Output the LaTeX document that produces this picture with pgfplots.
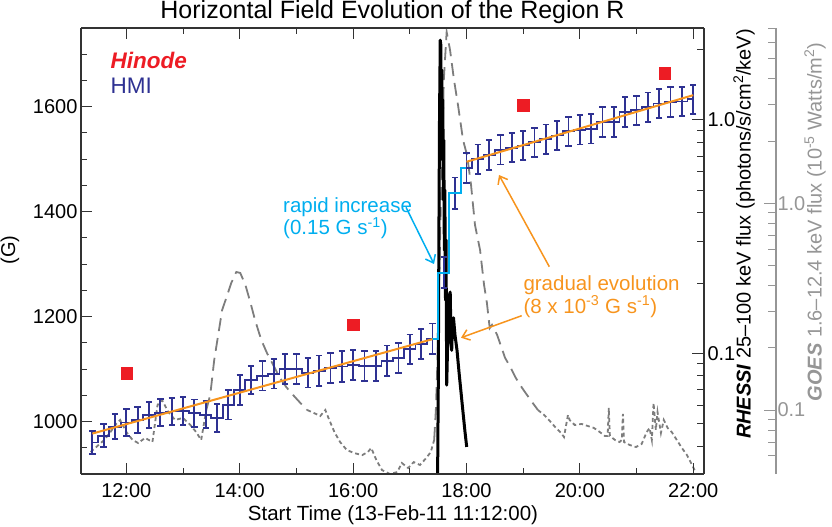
\documentclass[border=0pt]{standalone}
\usepackage{pgfplots}
\pgfplotsset{compat=1.18}
\usepackage{pgfplotstable}
\usepackage{fontspec}
\setmainfont{Liberation Sans}
\usetikzlibrary{arrows.meta}

\definecolor{hminavy}{RGB}{46,49,146}
\definecolor{hinred}{RGB}{237,28,36}
\definecolor{fitorange}{RGB}{247,148,29}
\definecolor{rapidcyan}{RGB}{0,174,239}
\definecolor{goesgray}{RGB}{125,125,125}
\definecolor{goestext}{RGB}{150,150,150}

\pgfplotstableread{
t g e
11.4 960 22
11.6 973 22
11.8 990 24
12.0 998 26
12.2 1003 25
12.4 1012 25
12.6 1017 26
12.8 1019 26
13.0 1020 26
13.2 1016 26
13.4 1013 26
13.6 1007 27
13.8 1032 28
14.0 1060 28
14.2 1079 27
14.4 1087 28
14.6 1091 28
14.8 1100 29
15.0 1100 29
15.2 1093 28
15.4 1097 29
15.6 1102 29
15.8 1105 29
16.0 1108 29
16.2 1106 29
16.4 1106 29
16.6 1116 29
16.8 1121 29
17.0 1138 28
17.2 1148 29
17.4 1158 29
17.6 1284 30
17.8 1435 30
18.0 1483 29
18.2 1500 28
18.4 1508 28
18.6 1518 28
18.8 1522 28
19.0 1526 28
19.2 1532 28
19.4 1538 28
19.6 1545 28
19.8 1553 28
20.0 1556 28
20.2 1558 28
20.4 1571 28
20.6 1571 28
20.8 1590 28
21.0 1593 28
21.2 1599 28
21.4 1606 28
21.6 1609 28
21.8 1610 28
22.0 1614 28
}\hmidata

\pgfplotstableread{
t v
11.37 0.0626
11.49 0.0670
11.61 0.0716
11.72 0.0783
11.82 0.0856
11.89 0.0895
12.00 0.0783
12.11 0.0716
12.21 0.0692
12.33 0.0733
12.46 0.0700
12.55 0.1057
12.63 0.1117
12.74 0.0978
12.86 0.0895
13.00 0.0915
13.13 0.0846
13.23 0.0783
13.32 0.0716
13.41 0.1000
13.48 0.1183
13.55 0.1746
13.62 0.2307
13.69 0.3048
13.78 0.3598
13.85 0.4113
13.94 0.4654
14.01 0.4600
14.10 0.4030
14.19 0.3297
14.27 0.2725
14.38 0.2183
14.48 0.1888
14.59 0.1652
14.71 0.1429
14.82 0.1292
14.94 0.1183
15.07 0.1081
15.19 0.1000
15.31 0.0967
15.42 0.0935
15.51 0.1000
15.58 0.0895
15.67 0.0783
15.77 0.0700
15.89 0.0640
16.02 0.0619
16.16 0.0605
16.26 0.0626
16.32 0.0655
16.41 0.0573
16.51 0.0512
16.65 0.0490
16.78 0.0501
16.86 0.0554
16.97 0.0524
17.07 0.0560
17.18 0.0542
17.29 0.0586
17.37 0.0626
17.43 0.0716
17.46 0.1000
17.50 0.2183
17.53 0.594
17.57 1.81
17.60 3.95
17.65 6.75
17.71 5.52
17.78 3.95
17.85 2.99
17.94 2.02
18.01 1.71
18.08 1.23
18.15 0.785
18.24 0.594
18.31 0.403
18.36 0.330
18.41 0.249
18.45 0.258
18.54 0.231
18.59 0.211
18.68 0.179
18.78 0.160
18.87 0.143
18.98 0.128
19.07 0.118
19.17 0.108
19.26 0.100
19.37 0.0946
19.47 0.0885
19.58 0.0818
19.67 0.0774
19.72 0.0740
19.79 0.0946
19.82 0.0895
19.91 0.0846
20.03 0.0856
20.14 0.0837
20.25 0.0818
20.35 0.0783
20.44 0.0749
20.49 0.0749
20.51 0.1023
20.53 0.0749
20.62 0.0716
20.70 0.0700
20.74 0.0716
20.76 0.0957
20.78 0.0700
20.88 0.0677
20.99 0.0662
21.09 0.0685
21.18 0.0783
21.23 0.0818
21.27 0.0716
21.30 0.1081
21.34 0.0800
21.37 0.0978
21.43 0.0774
21.48 0.0895
21.55 0.0818
21.62 0.0783
21.71 0.0716
21.80 0.0655
21.89 0.0605
21.98 0.0542
22.04 0.0501
}\goesdata

\pgfplotstableread{
t v
17.490 0.0286
17.503 0.0768
17.512 0.277
17.524 1.00
17.537 2.20
17.547 2.10
17.556 1.10
17.565 1.64
17.574 0.674
17.583 1.22
17.592 0.454
17.600 0.820
17.609 0.277
17.618 0.501
17.630 0.169
17.639 0.306
17.651 0.0731
17.665 0.1033
17.683 0.125
17.700 0.178
17.713 0.183
17.727 0.114
17.739 0.103
17.753 0.132
17.771 0.142
17.797 0.120
17.833 0.103
17.868 0.0832
17.903 0.0683
17.938 0.0561
17.974 0.0460
18.004 0.0397
}\rhessidata

\begin{document}
\begin{tikzpicture}[font=\fontsize{20}{23}\selectfont]
\useasboundingbox (0,0) rectangle (832pt,527pt);

% GOES data (log axis, hidden)
\begin{axis}[
  at={(81pt,53pt)}, anchor=south west,
  scale only axis, width=623pt, height=446pt,
  xmin=11.2, xmax=22.19, ymode=log, ymin=0.04902, ymax=7.049,
  hide axis,
  goesline/.style={goesgray, line width=1.8pt},
]
\addplot[goesline, dash pattern=on 4pt off 3pt, restrict x to domain=11.3:13.41] table[x=t,y=v] {\goesdata};
\addplot[goesline, dash pattern=on 13pt off 7pt, restrict x to domain=13.41:15.2] table[x=t,y=v] {\goesdata};
\addplot[goesline, dash pattern=on 4pt off 3pt, restrict x to domain=15.19:17.44] table[x=t,y=v] {\goesdata};
\addplot[goesline, dash pattern=on 13pt off 7pt, restrict x to domain=17.43:19.27] table[x=t,y=v] {\goesdata};
\addplot[goesline, dash pattern=on 4pt off 3pt, restrict x to domain=19.26:22.1] table[x=t,y=v] {\goesdata};
\end{axis}

% RHESSI data and right axis
\begin{axis}[
  at={(81pt,53pt)}, anchor=south west,
  scale only axis, width=623pt, height=446pt,
  xmin=11.2, xmax=22.19, ymode=log, ymin=0.03039, ymax=2.479,
  axis x line=none, axis y line*=right,
  ytick={0.1,1}, yticklabels={0.1,1.0},
  minor ytick={0.04,0.05,0.06,0.07,0.08,0.09,0.2,0.3,0.4,0.5,0.6,0.7,0.8,0.9,2},
  ytick align=inside,
  major tick length=12pt, minor tick length=7pt,
  every tick/.style={black!80, line width=1pt},
  axis line style={black!80, line width=1.2pt},
  yticklabel style={font=\fontsize{20}{23}\selectfont},
]
\addplot[black, line width=3pt, line join=round] table[x=t,y=v] {\rhessidata};
\end{axis}

% Main HMI axis
\begin{axis}[
  at={(81pt,53pt)}, anchor=south west,
  scale only axis, width=623pt, height=446pt,
  xmin=11.2, xmax=22.19, ymin=900, ymax=1750,
  axis y line*=left,
  xtick={12,14,16,18,20,22},
  xticklabels={12:00,14:00,16:00,18:00,20:00,22:00},
  minor xtick={13,15,17,19,21},
  ytick={1000,1200,1400,1600},
  yticklabels={1000,1200,1400,1600},
  minor ytick={950,1050,1100,1150,1250,1300,1350,1450,1500,1550,1650,1700},
  xtick align=inside, ytick align=inside,
  major tick length=11pt, minor tick length=6pt,
  every tick/.style={black!80, line width=1pt},
  axis line style={black!80, line width=1.2pt},
  xticklabel style={yshift=-6pt, font=\fontsize{20}{23}\selectfont},
  yticklabel style={font=\fontsize{20}{23}\selectfont},
  clip=false,
]
\addplot[hminavy, line width=1.8pt, const plot mark mid,
  error bars/.cd, y dir=both, y explicit,
  error bar style={hminavy, line width=1.8pt},
  error mark options={rotate=90, hminavy, line width=1.8pt, mark size=3.2pt}]
  table[x=t, y=g, y error=e] {\hmidata};
\addplot[rapidcyan, line width=2pt, const plot mark mid] coordinates {
  (17.4,1158) (17.6,1284) (17.8,1435) (18.0,1483)};
\addplot[fitorange, line width=2pt] coordinates {(11.4,977) (17.4,1157)};
\addplot[fitorange, line width=2pt] coordinates {(18.0,1495) (22.0,1622)};
\addplot[only marks, mark=square*, mark size=5.6pt, hinred, mark options={draw=hinred, fill=hinred}] coordinates {
  (12.0,1092) (16.0,1184) (19.0,1603) (21.5,1664)};
\end{axis}

% GOES scale axis
\begin{axis}[
  at={(775pt,53pt)}, anchor=south west,
  scale only axis, width=1pt, height=446pt,
  xmin=0, xmax=1, ymode=log, ymin=0.04902, ymax=7.049,
  axis x line=none, axis y line*=right,
  ytick={0.1,1}, yticklabels={0.1,1.0},
  minor ytick={0.06,0.07,0.08,0.09,0.2,0.3,0.4,0.5,0.6,0.7,0.8,0.9,2,3,4,5,6,7},
  ytick align=inside,
  major tick length=12pt, minor tick length=8pt,
  every tick/.style={goestext, line width=1pt},
  axis line style={goestext, line width=1.2pt},
  yticklabel style={goestext, xshift=-2pt, font=\fontsize{20}{23}\selectfont},
]
\addplot[draw=none] coordinates {(0.5,0.5)};
\end{axis}

% Title and labels
\node[anchor=base, font=\fontsize{25}{29}\selectfont] at (392.5pt,508.7pt) {Horizontal Field Evolution of the Region R};
\node[anchor=base, font=\fontsize{20.5}{24}\selectfont] at (393pt,6.3pt) {Start Time (13-Feb-11 11:12:00)};
\node[rotate=90] at (10pt,277pt) {(G)};
\node[rotate=90] at (744pt,293pt) {\textbf{\textit{RHESSI}} 25--100 keV flux (photons/s/cm\textsuperscript{2}/keV)};
\node[rotate=90, goestext] at (815pt,305pt) {\textbf{\textit{GOES}} 1.6--12.4 keV flux (10\textsuperscript{-5} Watts/m\textsuperscript{2})};

% Legend
\node[anchor=base west, hinred, font=\fontsize{22.5}{26}\selectfont\bfseries\itshape] at (107pt,458.7pt) {Hinode};
\node[anchor=base west, hminavy, font=\fontsize{22.5}{26}\selectfont] at (107pt,433.7pt) {HMI};

% Annotations
\node[anchor=north west, align=left, inner sep=0pt, rapidcyan, font=\fontsize{20.5}{21}\selectfont] at (283pt,330pt) {rapid increase\\(0.15 G s\textsuperscript{-1})};
\draw[rapidcyan, line width=1.5pt, -{Straight Barb[length=7pt,width=11pt]}] (406pt,319.7pt) -- (434pt,263pt);

\node[anchor=north west, align=left, inner sep=0pt, fitorange, font=\fontsize{20.5}{21.7}\selectfont] at (523.3pt,251.5pt) {gradual evolution\\(8 x 10\textsuperscript{-3} G s\textsuperscript{-1})};
\draw[fitorange, line width=1.5pt, -{Straight Barb[length=7pt,width=11pt]}] (549.3pt,260.3pt) -- (499pt,352pt);
\draw[fitorange, line width=1.5pt, -{Straight Barb[length=7pt,width=11pt]}] (521.7pt,211.3pt) -- (461pt,189.3pt);
\end{tikzpicture}
\end{document}
